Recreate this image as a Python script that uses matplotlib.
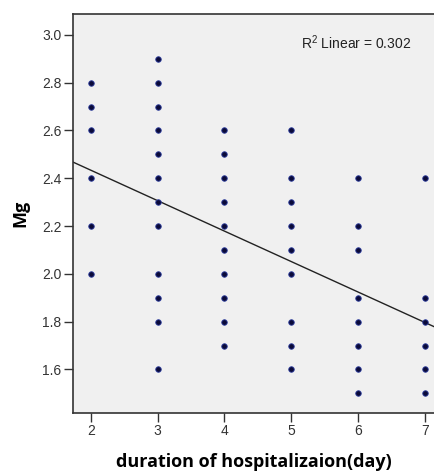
import numpy as np
import matplotlib
matplotlib.use("Agg")
import matplotlib.pyplot as plt

plt.rcParams['font.family'] = ['Liberation Sans', 'DejaVu Sans']
plt.rcParams['mathtext.fontset'] = 'custom'
plt.rcParams['mathtext.rm'] = 'Liberation Sans'

days_2 = [2.8, 2.7, 2.6, 2.4, 2.2, 2.0]
days_3 = [2.9, 2.8, 2.7, 2.6, 2.5, 2.4, 2.3, 2.2, 2.0, 1.9, 1.8, 1.6]
days_4 = [2.6, 2.5, 2.4, 2.3, 2.2, 2.1, 2.0, 1.9, 1.8, 1.7]
days_5 = [2.6, 2.4, 2.3, 2.2, 2.1, 2.0, 1.8, 1.7, 1.6]
days_6 = [2.4, 2.2, 2.1, 1.9, 1.8, 1.7, 1.6, 1.5]
days_7 = [2.4, 1.9, 1.8, 1.7, 1.6, 1.5]
groups = {2: days_2, 3: days_3, 4: days_4, 5: days_5, 6: days_6, 7: days_7}
x_ticks = [2, 3, 4, 5, 6, 7]
y_ticks = [1.6, 1.8, 2.0, 2.2, 2.4, 2.6, 2.8, 3.0]
r2_label = "R$^2$ Linear = 0.302"

x = np.concatenate([[d] * len(v) for d, v in groups.items()]).astype(float)
y = np.concatenate([v for v in groups.values()])

fig = plt.figure(figsize=(4.35, 4.74), dpi=100)
ax = fig.add_axes([0.167, 0.1287, 0.833, 0.8418])
ax.set_facecolor('#F0F0F0')

xlim = (1.73, 7.15)
ylim = (1.418, 3.087)
ax.set_xlim(*xlim)
ax.set_ylim(*ylim)

slope, intercept = np.polyfit(x, y, 1)
xs = np.array(xlim)
ax.plot(xs, slope * xs + intercept, color='#222222', lw=1.0, zorder=2)

ax.scatter(x, y, s=16, color='#0a0a3a', edgecolors='#3040a0', linewidths=0.6, zorder=3)

ax.set_xticks(x_ticks)
ax.set_yticks(y_ticks)
ax.set_yticklabels([f"{v:.1f}" for v in y_ticks])
ax.tick_params(direction='out', length=6.5, width=1.0, color='#333333',
               labelsize=10, labelcolor='#333333', pad=1.5)

for s in ['left', 'bottom', 'top']:
    ax.spines[s].set_color('#333333')
    ax.spines[s].set_linewidth(1.2)
ax.spines['right'].set_visible(False)

ax.set_xlabel('duration of hospitalizaion(day)', fontsize=13, fontweight='bold',
              family=['Open Sans', 'DejaVu Sans'], labelpad=11)
ax.set_ylabel('Mg', fontsize=13, fontweight='bold',
              family=['Open Sans', 'DejaVu Sans'], labelpad=9)

ax.text(0.782, 0.927, r2_label, transform=ax.transAxes, ha='center', va='center',
        fontsize=10, color='#222222')

fig.savefig('out.png', dpi=100)
